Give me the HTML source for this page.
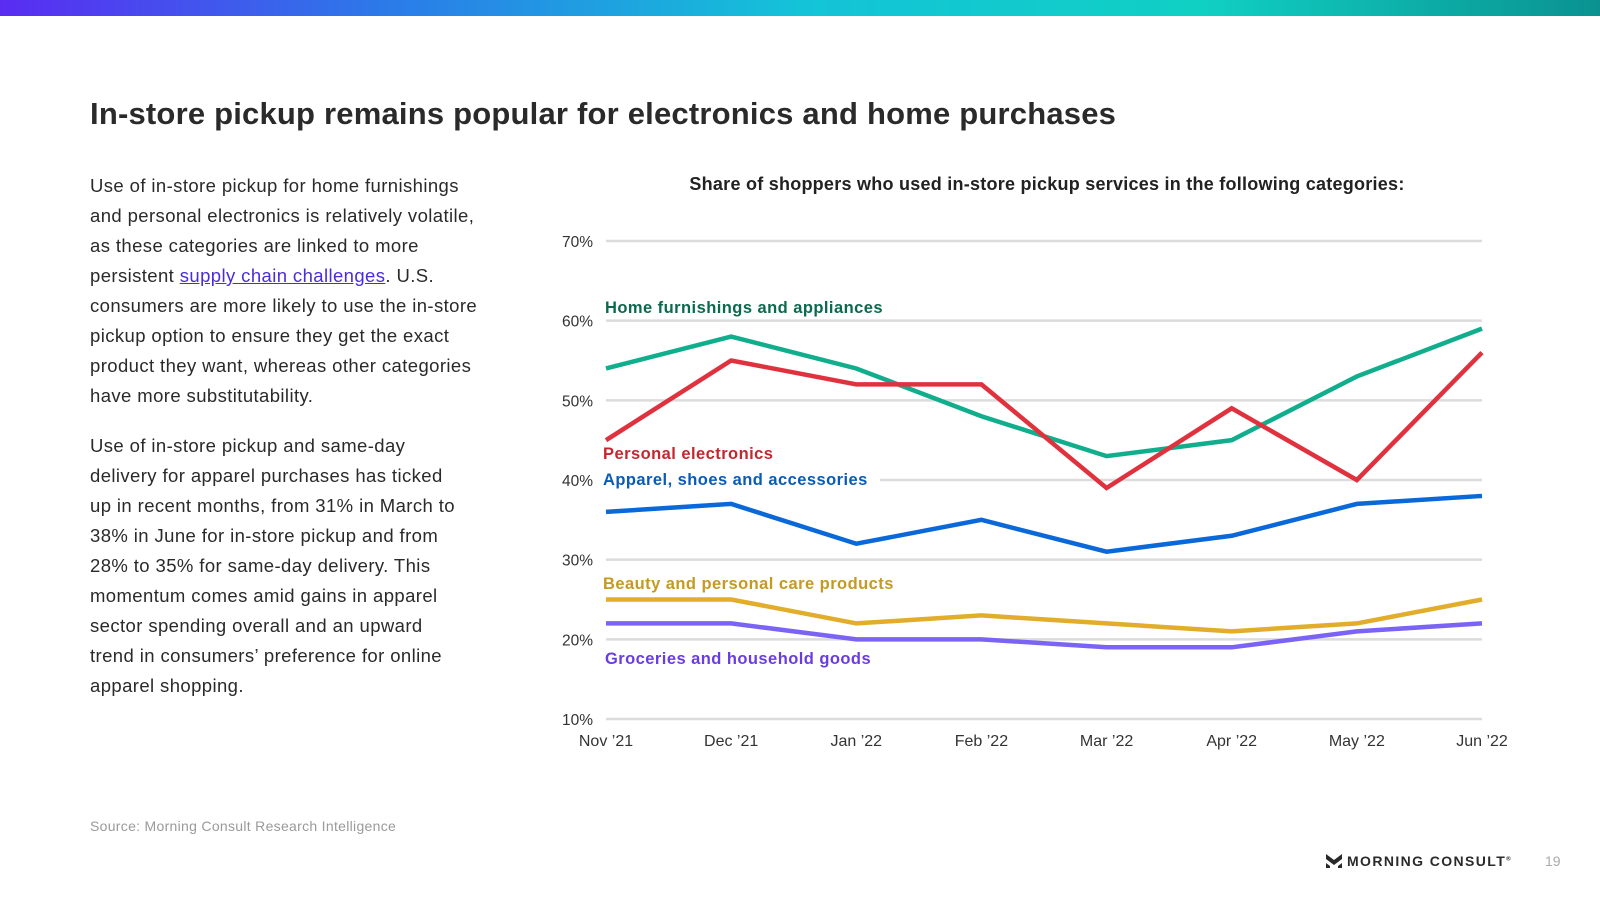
<!DOCTYPE html>
<html><head><meta charset="utf-8"><style>
body{margin:0;width:1600px;height:900px;background:#fff;font-family:"Liberation Sans",sans-serif;position:relative;overflow:hidden;color:#222}
.abs{position:absolute}
#topbar{left:0;top:0;width:1600px;height:16px;background:linear-gradient(90deg,#5a2cf2 0%,#2a7de8 25%,#14c3d8 50%,#10d0c4 75%,#0a9290 100%)}
#title{left:90px;top:96px;font-size:31px;font-weight:bold;color:#2a2a2a;letter-spacing:0.2px;white-space:nowrap}
.para{left:90px;font-size:18.5px;line-height:30px;color:#2a2a2a;white-space:nowrap;letter-spacing:0.4px}
a{color:#4a2cd9;text-decoration:underline}
#source{left:90px;top:818px;font-size:14px;color:#9a9a9a;letter-spacing:0.3px}
#logo{left:1326px;top:853px;font-size:14px;font-weight:bold;letter-spacing:1.4px;color:#2a2a2a}
#pnum{left:1545px;top:853px;font-size:14px;color:#aaa}
</style></head><body>
<div id="topbar" class="abs"></div>
<div id="title" class="abs">In-store pickup remains popular for electronics and home purchases</div>
<div class="abs para" style="top:171px">Use of in-store pickup for home furnishings<br>and personal electronics is relatively volatile,<br>as these categories are linked to more<br>persistent <a>supply chain challenges</a>. U.S.<br>consumers are more likely to use the in-store<br>pickup option to ensure they get the exact<br>product they want, whereas other categories<br>have more substitutability.</div>
<div class="abs para" style="top:431px">Use of in-store pickup and same-day<br>delivery for apparel purchases has ticked<br>up in recent months, from 31% in March to<br>38% in June for in-store pickup and from<br>28% to 35% for same-day delivery. This<br>momentum comes amid gains in apparel<br>sector spending overall and an upward<br>trend in consumers’ preference for online<br>apparel shopping.</div>
<div id="source" class="abs">Source: Morning Consult Research Intelligence</div>
<div id="logo" class="abs"><svg width="16" height="14" viewBox="0 0 16 14" style="vertical-align:-2px;margin-right:5px"><path d="M0 0L8 6L16 0V5L8 11L0 5Z M0 9L4 12V14H0Z M16 9L12 12V14H16Z" fill="#2a2a2a"/></svg>MORNING CONSULT<sup style="font-size:6px">®</sup></div>
<div id="pnum" class="abs">19</div>
<svg class="abs" style="left:0;top:0" width="1600" height="900" id="chart"></svg>
<script>
const categories=["Nov ’21","Dec ’21","Jan ’22","Feb ’22","Mar ’22","Apr ’22","May ’22","Jun ’22"];
const yTicks=[10,20,30,40,50,60,70];
const home=[54,58,54,48,43,45,53,59];
const electronics=[45,55,52,52,39,49,40,56];
const apparel=[36,37,32,35,31,33,37,38];
const beauty=[25,25,22,23,22,21,22,25];
const groceries=[22,22,20,20,19,19,21,22];
const NS="http://www.w3.org/2000/svg";
const svg=document.getElementById('chart');
const x0=606,x1=1482,yTop=241,yBot=719;
const xs=i=>x0+i*(x1-x0)/(categories.length-1);
const ys=v=>yBot-(v-10)/60*(yBot-yTop);
function mk(t,a,txt){const e=document.createElementNS(NS,t);for(const k in a)e.setAttribute(k,a[k]);if(txt!==undefined)e.textContent=txt;svg.appendChild(e);return e;}
const ct=mk('text',{x:1047,y:190,'text-anchor':'middle','font-size':18,'font-weight':'bold',fill:'#222','letter-spacing':0.25},"Share of shoppers who used in-store pickup services in the following categories:");


yTicks.forEach(v=>{
  const gx=v===40?880:x0;
  const g=mk('line',{x1:gx,x2:x1,y1:ys(v),y2:ys(v),stroke:'#dcdcdc','stroke-width':2.5});
  
  
  const t=mk('text',{x:593,y:ys(v)+6,'text-anchor':'end','font-size':15.5,fill:'#333'},v+'%');
  
  
});
categories.forEach((c,i)=>{
  const t=mk('text',{x:xs(i),y:746,'text-anchor':'middle','font-size':16,fill:'#333'},c);
  
  
});
const series=[
 [home,'#10ae8c','#0b6a4e','Home furnishings and appliances',605,313,'home'],
 [electronics,'#e0323e','#c6262f','Personal electronics',603,459,'electronics'],
 [apparel,'#0b68d8','#0a5bb8','Apparel, shoes and accessories',603,485,'apparel'],
 [beauty,'#e1ad2a','#c49a1f','Beauty and personal care products',603,589,'beauty'],
 [groceries,'#7b63f5','#6a3de0','Groceries and household goods',605,664,'groceries']
];
series.forEach(s=>{
  const p=mk('polyline',{points:s[0].map((v,i)=>xs(i)+','+ys(v)).join(' '),fill:'none',stroke:s[1],'stroke-width':4.5,'stroke-linejoin':'miter'});
  
  
});
series.forEach(s=>{
  const t=mk('text',{x:s[4],y:s[5],'font-size':16.5,'font-weight':'bold',fill:s[2],'letter-spacing':0.45},s[3]);
  
  
});
</script>
</body></html>
